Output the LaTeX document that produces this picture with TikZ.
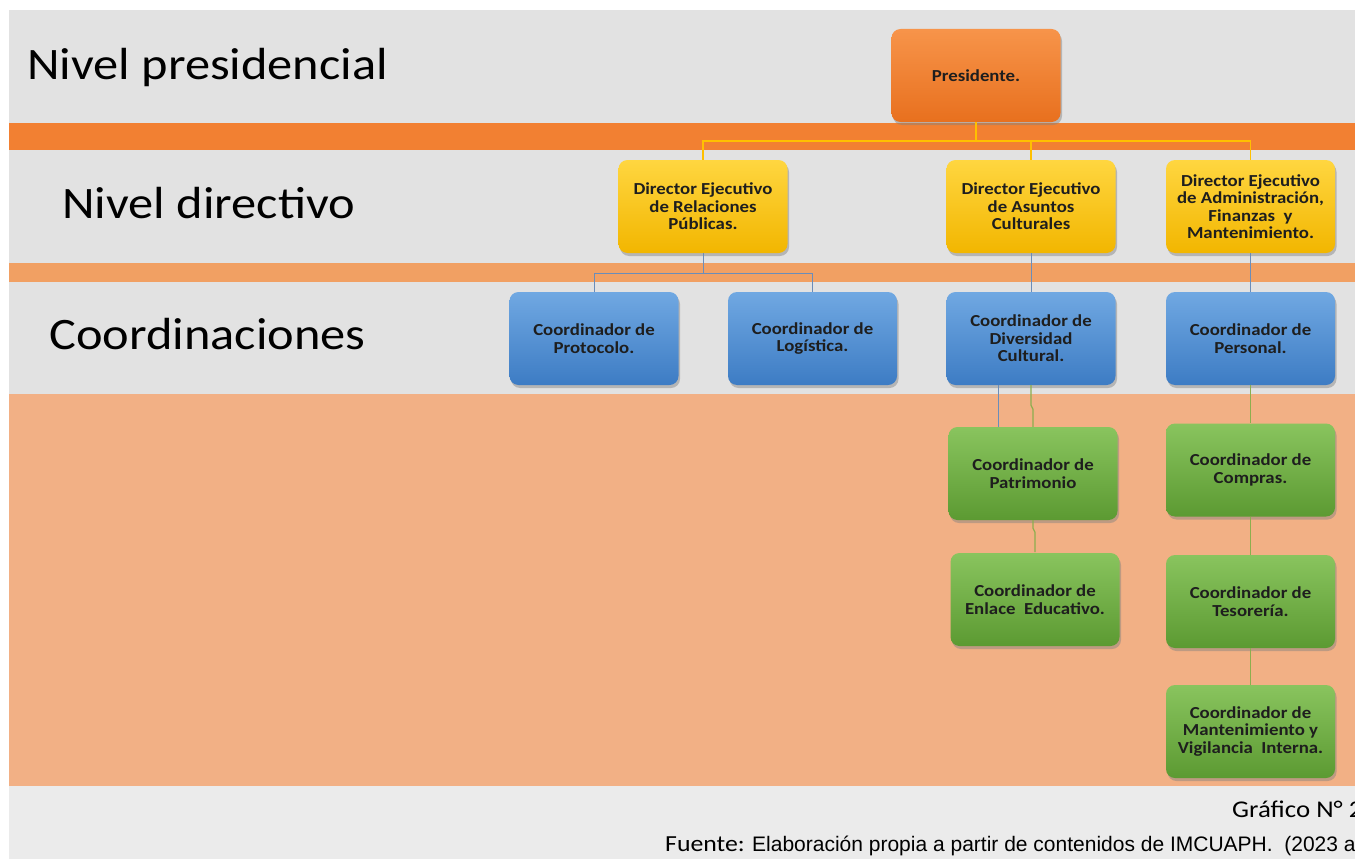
\documentclass[tikz,border=0pt]{standalone}
\usepackage{fontspec}
\setmainfont{Carlito}[FakeStretch=1.12]
\newfontfamily\labfont{Carlito}[FakeStretch=1.12]
\newfontfamily\boxfont{Carlito}[FakeStretch=1.12]
\newfontfamily\arialfont{Liberation Sans}
\usetikzlibrary{shadows}
\definecolor{bandgray}{HTML}{E2E2E2}
\definecolor{footgray}{HTML}{EBEBEB}
\definecolor{orangeA}{HTML}{F28032}
\definecolor{orangeB}{HTML}{F1A063}
\definecolor{peach}{HTML}{F2B085}
\definecolor{presTop}{HTML}{F7944A}
\definecolor{presBot}{HTML}{E8701E}
\definecolor{yelTop}{HTML}{FFD640}
\definecolor{yelBot}{HTML}{F2B600}
\definecolor{bluTop}{HTML}{70A8E2}
\definecolor{bluBot}{HTML}{3D7CC4}
\definecolor{grnTop}{HTML}{89C45E}
\definecolor{grnBot}{HTML}{5C9A32}
\definecolor{yline}{HTML}{FFC000}
\definecolor{bline}{HTML}{6A8DBA}
\definecolor{gline}{HTML}{8CAE4E}
\definecolor{txt}{HTML}{1E1E1E}
\begin{document}
\begin{tikzpicture}[x=1pt,y=-1pt,
  box/.style={rounded corners=9pt, minimum width=169pt, minimum height=93pt,
    align=center, inner sep=2pt, text=txt,
    font=\boxfont\bfseries\fontsize{16.8}{17.5}\selectfont,
    drop shadow={shadow xshift=1.5pt,shadow yshift=-3pt,opacity=0.45}},
  presbox/.style={box, top color=presTop, bottom color=presBot},
  dirbox/.style={box, top color=yelTop, bottom color=yelBot},
  coordbox/.style={box, top color=bluTop, bottom color=bluBot},
  subbox/.style={box, top color=grnTop, bottom color=grnBot},
  lab/.style={anchor=base west, inner sep=0pt, text=black,
    font=\labfont\fontsize{45}{50}\selectfont},
  yconn/.style={draw=yline, line width=1.4pt},
  bconn/.style={draw=bline, line width=1pt},
  gconn/.style={draw=gline, line width=1.2pt}]
\clip (0,0) rectangle (1355,859);
\useasboundingbox (0,0) rectangle (1355,859);
% background
\fill[white] (0,0) rectangle (1355,859);
\fill[bandgray] (9,10) rectangle (1355,786);
\fill[orangeA] (9,123) rectangle (1355,150);
\fill[orangeB] (9,263) rectangle (1355,282);
\fill[peach] (9,394) rectangle (1355,786);
\fill[footgray] (9,786) rectangle (1355,859);
% level labels
\node[lab] (l1) at (27,79) {Nivel presidencial};
\node[lab] (l2) at (62,218) {Nivel directivo};
\node[lab] (l3) at (49,349) {Coordinaciones};
% boxes
\node[presbox] (pres) at (976,75.5) {Presidente.};
\node[dirbox] (rp) at (703,206.5) {Director Ejecutivo\\de Relaciones\\Públicas.};
\node[dirbox] (ac) at (1031,206.5) {Director Ejecutivo\\de Asuntos\\Culturales};
\node[dirbox] (afm) at (1250.5,206.5) {Director Ejecutivo\\de Administración,\\Finanzas~ y\\Mantenimiento.};
\node[coordbox] (proto) at (594,338.5) {Coordinador de\\Protocolo.};
\node[coordbox] (logi) at (812.5,338.5) {Coordinador de\\Logística.};
\node[coordbox] (div) at (1031,338.5) {Coordinador de\\Diversidad\\Cultural.};
\node[coordbox] (pers) at (1250.5,338.5) {Coordinador de\\Personal.};
% connectors
\coordinate (ybar) at (0,141);
\coordinate (bbar) at (0,273);
\draw[bconn] (div.south -| 998,0) -- (998,432);
\draw[gconn] (div.south) -- ++(0,20) -- ++(2,4) -- (1033,427);
\node[subbox] (pat) at (1033,473.5) {Coordinador de\\Patrimonio};
\draw[gconn] (pat.south) -- ++(0,8) -- ++(2,4) -- (1035,552);
\node[subbox] (enl) at (1035,599.5) {Coordinador de\\Enlace~ Educativo.};
\node[subbox] (comp) at (1250.5,470) {Coordinador de\\Compras.};
\node[subbox] (teso) at (1250.5,601.5) {Coordinador de\\Tesorería.};
\node[subbox] (mant) at (1250.5,731.5) {Coordinador de\\Mantenimiento y\\Vigilancia~ Interna.};
\draw[yconn] (pres.south) -- (pres.south |- ybar);
\draw[yconn] (rp.north) -- (rp.north |- ybar) -- (afm.north |- ybar) -- (afm.north);
\draw[yconn] (ac.north |- ybar) -- (ac.north);
\draw[bconn] (rp.south) -- (rp.south |- bbar);
\draw[bconn] (proto.north) -- (proto.north |- bbar) -- (logi.north |- bbar) -- (logi.north);
\draw[bconn] (ac.south) -- (div.north);
\draw[bconn] (afm.south) -- (pers.north);
\draw[gconn] (pers.south) -- (comp.north);
\draw[gconn] (comp.south) -- (teso.north);
\draw[gconn] (teso.south) -- (mant.north);
% footer
\node[anchor=base west, inner sep=0pt, text=black, font=\fontsize{24}{27}\selectfont] (graf) at (1232,817) {Gráfico N° 2};
\node[anchor=base west, inner sep=0pt, text=black, font=\fontsize{23}{26}\selectfont] (fue) at (665,851) {Fuente:};
\node[anchor=base west, inner sep=0pt, text=black, font=\arialfont\fontsize{21}{23}\selectfont] (src) at (752,851) {Elaboración propia a partir de contenidos de IMCUAPH.~ (2023 a};
\end{tikzpicture}
\end{document}
